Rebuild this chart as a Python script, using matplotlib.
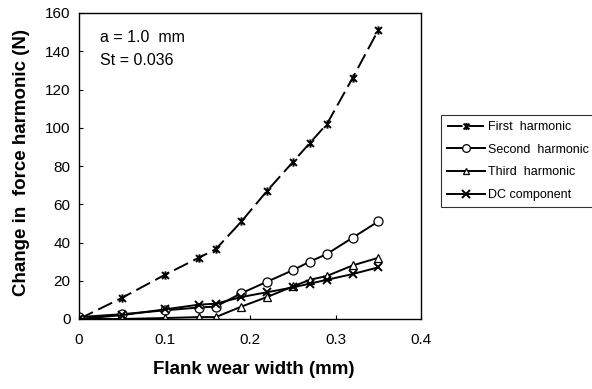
import numpy as np
import matplotlib
matplotlib.use('Agg')
import matplotlib.pyplot as plt
from matplotlib.path import Path

plt.rcParams['font.family'] = ['Liberation Sans', 'DejaVu Sans']

# Flank wear width (mm)
wear = [0, 0.05, 0.1, 0.14, 0.16, 0.19, 0.22, 0.25, 0.27, 0.29, 0.32, 0.35]
# Change in force harmonic (N)
first_h = [0, 11, 23, 32, 36.5, 51, 67, 82, 92, 102, 126, 151]
second_h = [1, 2.5, 4.5, 6, 6.5, 13.5, 19.5, 25.5, 30, 34, 42.5, 51]
third_h = [0, 0, 0.5, 1, 1, 6.5, 11.5, 17, 20.5, 22.5, 28, 32]
dc_comp = [0, 2, 5, 7.5, 8, 11.5, 14, 16.5, 18.5, 20.5, 23.5, 27]

x_ticks = [0, 0.1, 0.2, 0.3, 0.4]
y_ticks = [0, 20, 40, 60, 80, 100, 120, 140, 160]

# Excel style star marker: an X with a vertical bar
star = Path([(-1, -1), (1, 1), (-1, 1), (1, -1), (0, -1.2), (0, 1.2)],
            [Path.MOVETO, Path.LINETO, Path.MOVETO, Path.LINETO, Path.MOVETO, Path.LINETO])

fig = plt.figure(figsize=(5.92, 3.89), dpi=100)
ax = fig.add_axes([79 / 592, 70 / 389, 342 / 592, 306 / 389])

ax.plot(wear, first_h, color='black', lw=1.4, ls=(0, (8, 3)), marker=star,
        ms=6, mew=1.4, label='First  harmonic')
ax.plot(wear, second_h, color='black', lw=1.4, marker='o', ms=6.5, mfc='white',
        mec='black', mew=0.9, label='Second  harmonic')
ax.plot(wear, third_h, color='black', lw=1.4, marker='^', ms=5.5, mfc='white',
        mec='black', mew=0.9, label='Third  harmonic')
ax.plot(wear, dc_comp, color='black', lw=1.4, marker='x', ms=6, mew=1.4,
        label='DC component')

ax.set_xlim(0, 0.4)
ax.set_ylim(0, 160)
ax.set_xticks(x_ticks)
ax.set_xticklabels(['0', '0.1', '0.2', '0.3', '0.4'])
ax.set_yticks(y_ticks)
ax.tick_params(direction='in', length=3, width=0.8, labelsize=11)
ax.tick_params(axis='x', pad=10)
ax.tick_params(axis='y', pad=6)
for s in ax.spines.values():
    s.set_linewidth(1.0)

ax.text(0.06, 0.905, 'a = 1.0  mm', transform=ax.transAxes, fontsize=11.5)
ax.text(0.06, 0.83, 'St = 0.036', transform=ax.transAxes, fontsize=11.5)

fig.text(254 / 592, 1 - 370 / 389, 'Flank wear width (mm)', ha='center',
         va='center', fontsize=13.5, fontweight='bold')
fig.text(22 / 592, 1 - 163 / 389, 'Change in  force harmonic (N)', ha='center',
         va='center', rotation=90, fontsize=13.5, fontweight='bold')

leg = fig.legend(loc='upper left', bbox_to_anchor=(441 / 592, 1 - 115 / 389),
                 fontsize=9, frameon=True, fancybox=False, edgecolor='black',
                 handlelength=3.0, handletextpad=0.3, labelspacing=0.85,
                 borderpad=0.5, borderaxespad=0, markerscale=0.85)
leg.get_frame().set_linewidth(0.8)

fig.savefig('out.png', dpi=100)
